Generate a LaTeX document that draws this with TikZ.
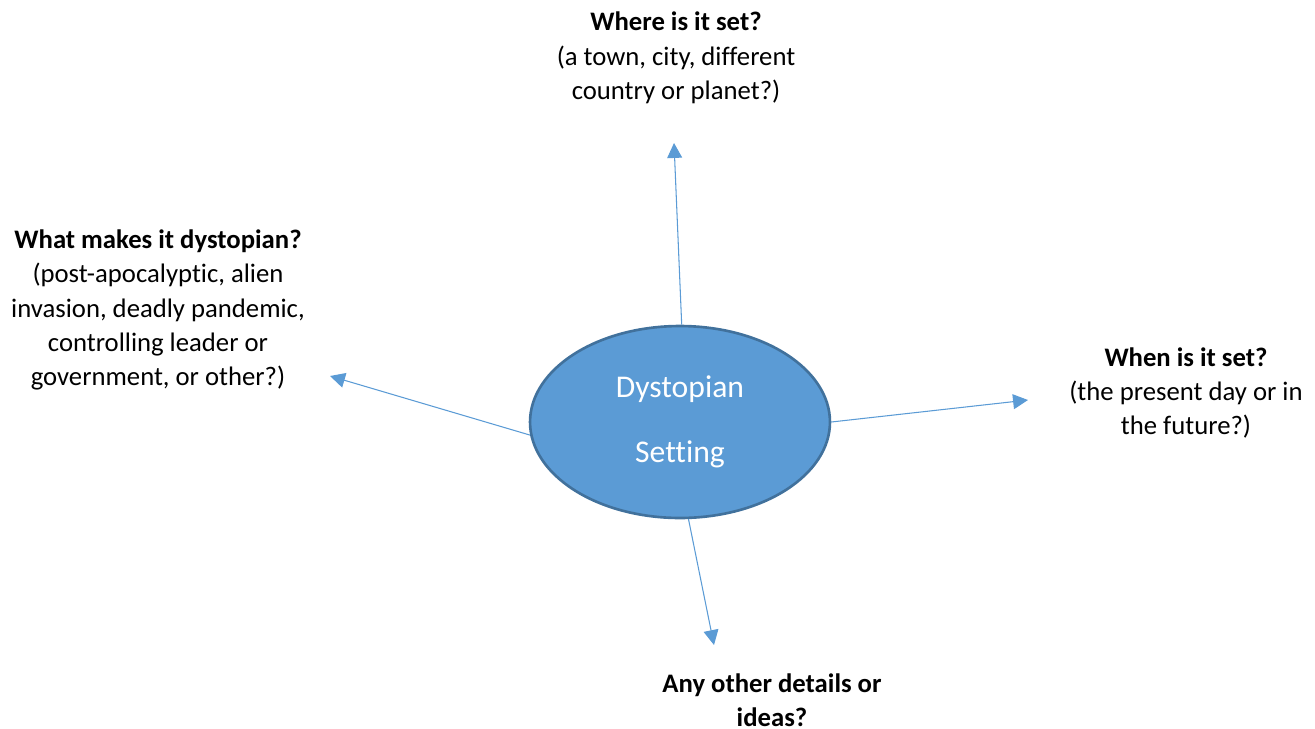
\documentclass[tikz,border=0pt]{standalone}
\usepackage{fontspec}
\setmainfont{Carlito}[Ligatures=NoCommon]
\usetikzlibrary{arrows.meta,shapes.geometric}

\definecolor{mapblue}{HTML}{5B9BD5}
\definecolor{mapedge}{HTML}{41719C}

\tikzset{
  spoke/.style={draw=mapblue,line width=0.6pt,-{Triangle[length=8.5pt,width=8.5pt]}},
  question/.style={align=center,font=\fontsize{15.2}{19.6}\selectfont,inner sep=0pt}
}

\begin{document}
\begin{tikzpicture}[x=0.02cm,y=-0.02cm]
\useasboundingbox (0,0) rectangle (1315,728);

% centre of the map
\node[ellipse,draw=mapedge,line width=1.5pt,fill=mapblue,minimum width=6cm,minimum height=3.84cm,inner sep=0pt,
      text=white,align=center,font=\fontsize{18}{36.9}\selectfont] (setting) at (680,422) {Dystopian\\Setting};

% arrow tips
\coordinate (up) at (674,143);
\coordinate (left) at (330,376);
\coordinate (right) at (1028,400);
\coordinate (down) at (714,645);

\draw[spoke] (setting.89.4) -- (up);
\draw[spoke] (setting.185.7) -- (left);
\draw[spoke] (setting.-0.4) -- (right);
\draw[spoke] (setting.275.9) -- (down);

% the questions
\node[question] (where) at (676,58) {\textbf{Where is it set?}\\(a town, city, different\\country or planet?)};
\node[question] (what) at (158,310) {\textbf{What makes it dystopian?}\\(post-apocalyptic, alien\\invasion, deadly pandemic,\\controlling leader or\\government, or other?)};
\node[question] (when) at (1186,393) {\textbf{When is it set?}\\(the present day or in\\the future?)};
\node[question] (other) at (772,700) {\textbf{Any other details or}\\\textbf{ideas?}};

\end{tikzpicture}
\end{document}
